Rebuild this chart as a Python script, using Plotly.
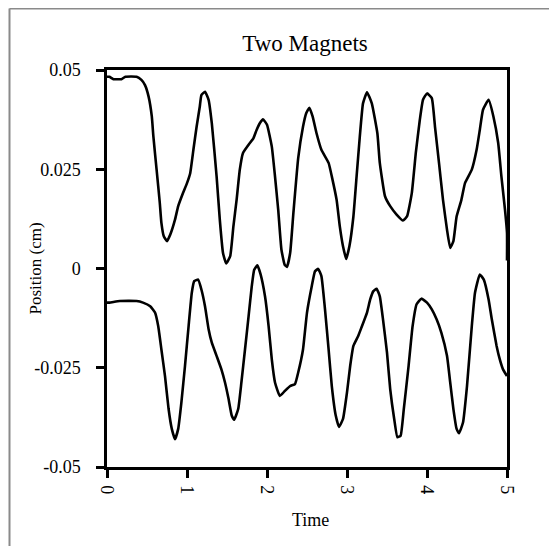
import plotly.graph_objects as go

# Upper magnet trace
t_upper = [0.0, 0.03, 0.08, 0.18, 0.23, 0.37, 0.43, 0.475, 0.52, 0.56, 0.58, 0.62, 0.66, 0.68,
           0.71, 0.75, 0.79, 0.85, 0.89, 0.95, 1.0, 1.04, 1.08, 1.12, 1.16, 1.18, 1.225, 1.27,
           1.31, 1.37, 1.41, 1.45, 1.49, 1.54, 1.58, 1.62, 1.66, 1.70, 1.77, 1.83, 1.87, 1.91,
           1.95, 2.0, 2.06, 2.10, 2.14, 2.18, 2.22, 2.25, 2.29, 2.33, 2.39, 2.45, 2.49, 2.53,
           2.57, 2.62, 2.68, 2.77, 2.81, 2.87, 2.91, 2.95, 2.99, 3.03, 3.08, 3.12, 3.16, 3.20,
           3.25, 3.31, 3.38, 3.41, 3.475, 3.54, 3.62, 3.70, 3.75, 3.81, 3.86, 3.91, 3.95, 4.00,
           4.06, 4.10, 4.15, 4.20, 4.25, 4.29, 4.33, 4.37, 4.43, 4.475, 4.56, 4.62, 4.66, 4.70,
           4.77, 4.83, 4.89, 4.93, 4.975, 5.0, 5.0]
v_upper = [0.0483, 0.0483, 0.0477, 0.0477, 0.0483, 0.0483, 0.0475, 0.0462, 0.0433, 0.0383,
           0.0332, 0.0249, 0.0165, 0.0115, 0.0081, 0.0069, 0.0085, 0.0123, 0.0157, 0.0190,
           0.0215, 0.0240, 0.0299, 0.0357, 0.0408, 0.0437, 0.0445, 0.0425, 0.0366, 0.0232,
           0.0123, 0.0039, 0.0013, 0.0031, 0.0106, 0.0173, 0.0249, 0.0291, 0.0312, 0.0328,
           0.0349, 0.0366, 0.0376, 0.0362, 0.0307, 0.0232, 0.0148, 0.0048, 0.0010, 0.0004,
           0.0040, 0.0140, 0.0278, 0.0357, 0.0391, 0.0405, 0.0383, 0.0340, 0.0299, 0.0266,
           0.0232, 0.0173, 0.0106, 0.0056, 0.0024, 0.0056, 0.0131, 0.0232, 0.0332, 0.0416,
           0.0444, 0.0416, 0.0340, 0.0266, 0.0182, 0.0157, 0.0136, 0.0121, 0.0131, 0.0190,
           0.0291, 0.0374, 0.0425, 0.0441, 0.0429, 0.0357, 0.0266, 0.0173, 0.0098, 0.0052,
           0.0069, 0.0131, 0.0173, 0.0215, 0.0249, 0.0299, 0.0349, 0.0400, 0.0425, 0.0383,
           0.0316, 0.0232, 0.0148, 0.0090, 0.0020]

# Lower magnet trace
t_lower = [0.0, 0.03, 0.16, 0.37, 0.45, 0.54, 0.60, 0.64, 0.68, 0.725, 0.77, 0.81, 0.85, 0.89,
           0.93, 0.975, 1.02, 1.06, 1.09, 1.14, 1.18, 1.225, 1.27, 1.31, 1.37, 1.43, 1.475,
           1.52, 1.56, 1.59, 1.64, 1.68, 1.725, 1.77, 1.81, 1.84, 1.88, 1.92, 1.975, 2.02, 2.06,
           2.10, 2.16, 2.225, 2.29, 2.35, 2.39, 2.45, 2.50, 2.56, 2.60, 2.64, 2.68, 2.725, 2.77,
           2.81, 2.86, 2.90, 2.95, 3.00, 3.04, 3.08, 3.14, 3.18, 3.25, 3.29, 3.33, 3.37, 3.41,
           3.45, 3.50, 3.54, 3.59, 3.63, 3.67, 3.71, 3.77, 3.82, 3.87, 3.93, 4.00, 4.06, 4.12,
           4.18, 4.25, 4.29, 4.33, 4.37, 4.40, 4.45, 4.50, 4.56, 4.60, 4.66, 4.71, 4.77, 4.81,
           4.87, 4.91, 4.95, 5.0]
v_lower = [-0.0086, -0.0086, -0.0082, -0.0082, -0.0086, -0.0095, -0.0111, -0.0145, -0.0204,
           -0.0271, -0.0354, -0.0404, -0.0430, -0.0404, -0.0337, -0.0245, -0.0145, -0.0061,
           -0.0032, -0.0028, -0.0053, -0.0095, -0.0153, -0.0187, -0.0220, -0.0254, -0.0287,
           -0.0329, -0.0371, -0.0381, -0.0354, -0.0287, -0.0204, -0.0120, -0.0044, -0.0003,
           0.0008, -0.0015, -0.0070, -0.0145, -0.0229, -0.0287, -0.0321, -0.0308, -0.0296,
           -0.0291, -0.0262, -0.0204, -0.0111, -0.0044, -0.0007, -0.0001, -0.0019, -0.0103,
           -0.0204, -0.0296, -0.0371, -0.0399, -0.0379, -0.0312, -0.0245, -0.0195, -0.0170,
           -0.0149, -0.0111, -0.0078, -0.0057, -0.0051, -0.0070, -0.0128, -0.0212, -0.0304,
           -0.0379, -0.0425, -0.0421, -0.0354, -0.0245, -0.0145, -0.0090, -0.0076, -0.0086,
           -0.0103, -0.0128, -0.0162, -0.0220, -0.0287, -0.0354, -0.0404, -0.0415, -0.0388,
           -0.0296, -0.0145, -0.0061, -0.0015, -0.0028, -0.0078, -0.0128, -0.0195, -0.0229,
           -0.0254, -0.0271]

y_tick_vals = [0.05, 0.025, 0, -0.025, -0.05]
y_tick_text = ["0.05", "0.025", "0", "-0.025", "-0.05"]
x_tick_vals = [0, 1, 2, 3, 4, 5]
x_tick_text = ["0", "1", "2", "3", "4", "5"]

FONT = "Liberation Serif"

# plot area in figure pixels
L, R, T, B = 99, 58, 62, 87
PW, PH = 557 - L - R, 546 - T - B

fig = go.Figure()
for tt, vv in [(t_upper, v_upper), (t_lower, v_lower)]:
    fig.add_trace(go.Scatter(x=tt, y=vv, mode="lines",
                             line=dict(color="black", width=2.6, shape="spline", smoothing=0.4),
                             showlegend=False, hoverinfo="skip"))

axis_common = dict(showline=True, linecolor="black", linewidth=2.5, mirror=True,
                   ticks="outside", ticklen=8, tickwidth=2.5, tickcolor="black",
                   showgrid=False, zeroline=False,
                   tickfont=dict(family=FONT, size=18, color="black"))

fig.update_xaxes(range=[0, 5], tickvals=x_tick_vals, ticktext=x_tick_text, tickangle=90,
                 ticklabelstandoff=4, **axis_common)
fig.update_yaxes(range=[-0.05, 0.05], tickvals=y_tick_vals, ticktext=y_tick_text,
                 ticklabelstandoff=12, **axis_common)


def px_x(p):
    return (p - L) / PW


def px_y(p):
    return (546 - B - p) / PH


fig.update_layout(
    width=557, height=546,
    margin=dict(l=L, r=R, t=T, b=B, autoexpand=False),
    paper_bgcolor="white", plot_bgcolor="white",
    title=dict(text="Two Magnets", x=297 / 557, xanchor="center", y=1 - 35 / 546, yanchor="middle",
               font=dict(family=FONT, size=23, color="black")),
    annotations=[
        dict(text="Time", xref="paper", yref="paper", x=px_x(302), y=px_y(512),
             xanchor="center", yanchor="middle", showarrow=False,
             font=dict(family=FONT, size=18, color="black")),
        dict(text="Position (cm)", xref="paper", yref="paper", x=px_x(27), y=0.5,
             xanchor="center", yanchor="middle", showarrow=False, textangle=-90,
             font=dict(family=FONT, size=17, color="black")),
    ],
    shapes=[
        dict(type="line", xref="paper", yref="paper", x0=px_x(1.5), x1=px_x(560),
             y0=px_y(0.5), y1=px_y(0.5), line=dict(color="#8a8a8a", width=2)),
        dict(type="line", xref="paper", yref="paper", x0=px_x(1.5), x1=px_x(1.5),
             y0=px_y(0.5), y1=px_y(550), line=dict(color="#8a8a8a", width=2)),
    ],
)

fig.write_html("out.html")
